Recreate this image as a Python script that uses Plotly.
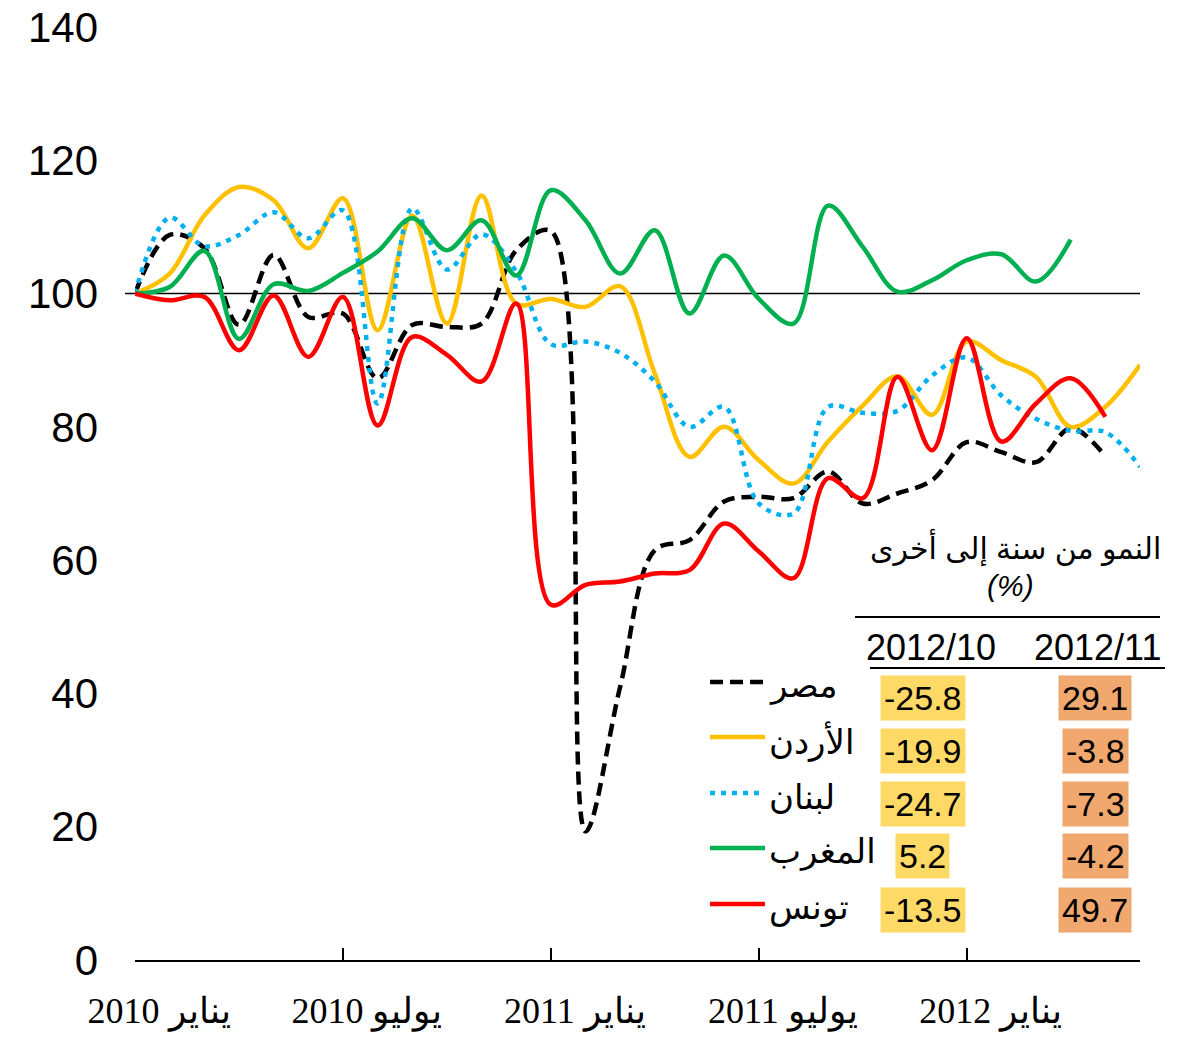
import plotly.graph_objects as go

# ---------------- data ----------------
months = list(range(30))  # Jan 2010 .. Jun 2012 (monthly index)
tick_idx = [0, 6, 12, 18, 24]
tick_labels = ["يناير 2010", "يوليو 2010", "يناير 2011", "يوليو 2011", "يناير 2012"]

names = ["مصر", "الأردن", "لبنان", "المغرب", "تونس"]

egypt = [100, 108.8, 106.8, 95.3, 105.8, 96.5, 97, 87.3, 95.3, 95, 95.5, 106.5,
         109.4, 19.3, 41, 61.5, 63, 68.8, 69.5, 69.3, 73.3, 68.5, 70, 72,
         77.7, 76.2, 74.7, 79.8, 75.6]
jordan = [100, 103, 111.7, 116, 114, 106.8, 114.3, 94.5, 111.7, 95.5, 114.7, 98.5,
          99.2, 98, 101.1, 88, 75.5, 80, 75, 71.5, 77.8, 83.2, 87.6, 81.8,
          92.8, 90, 87.5, 80, 83, 89.3]
lebanon = [100, 111.4, 107.1, 108.8, 112.2, 108.3, 112.5, 83.5, 112.8, 103.6, 108.9, 103.3,
           92.4, 92.8, 91.1, 86.8, 80, 83, 68.5, 67, 83, 82.1, 82.4, 87.7,
           90.4, 84.7, 81.2, 79.4, 79.2, 74]
morocco = [100, 101, 106.4, 93.2, 101.4, 100.4, 103.1, 106.3, 111.3, 106.5, 111, 102.7,
           115.5, 111, 103, 109.5, 97, 105.7, 99.2, 95.5, 113.2, 107, 100.3, 102,
           105, 105.9, 101.8, 108.1]
tunisia = [100, 99, 99.5, 91.5, 99.7, 90.5, 99.5, 80.2, 93.5, 90.8, 86.8, 98.5,
           53.3, 56.3, 56.8, 58, 58.5, 65.5, 61.3, 57.3, 72.3, 69.3, 87.5, 76.5,
           93.3, 77.8, 83.5, 87.3, 81.5]

yoy_oct = ["-25.8", "-19.9", "-24.7", "5.2", "-13.5"]
yoy_nov = ["29.1", "-3.8", "-7.3", "-4.2", "49.7"]
col_headers = ["2012/10", "2012/11"]
table_title = "النمو من سنة إلى أخرى"
table_unit = "(%)"

series = [egypt, jordan, lebanon, morocco, tunisia]
colors = ["#000000", "#FFC000", "#00B0F0", "#00B050", "#FF0000"]
dashes = ["13px,7px", "solid", "5px,6px", "solid", "solid"]

# ---------------- layout geometry (page pixel coordinates) ----------------
W, H = 1195, 1039
PL, PR, PT, PB = 135, 1140, 27, 960   # plot area in page pixels


def px(x):
    return (x - PL) / (PR - PL)


def py(y):
    return (PB - y) / (PB - PT)


SANS = "Arial, Liberation Sans, DejaVu Sans, sans-serif"
SERIF = "Times New Roman, Liberation Serif, DejaVu Serif, serif"

fig = go.Figure()
for name, vals, col, dsh in zip(names, series, colors, dashes):
    fig.add_trace(go.Scatter(
        x=months[:len(vals)], y=vals, mode="lines", name=name,
        line=dict(color=col, width=4.5, dash=dsh, shape="spline", smoothing=1.0),
        showlegend=False, hoverinfo="skip",
    ))

shapes = []
# reference line at 100
shapes.append(dict(type="line", xref="paper", yref="y", x0=px(125), x1=1.0, y0=100, y1=100,
                   line=dict(color="black", width=1.5), layer="below"))

annotations = []
# legend
row_y = [682, 737, 793, 848, 904]
for name, col, dsh, ry in zip(names, colors, dashes, row_y):
    shapes.append(dict(type="line", xref="paper", yref="paper",
                       x0=px(710), x1=px(765), y0=py(ry), y1=py(ry),
                       line=dict(color=col, width=4.5, dash=dsh)))
    annotations.append(dict(xref="paper", yref="paper", x=px(767), y=py(ry + 4),
                            text=name, showarrow=False, xanchor="left", yanchor="middle",
                            font=dict(family=SANS, size=34, color="black")))

# table title
annotations.append(dict(xref="paper", yref="paper", x=px(1015), y=py(547), text=table_title,
                        showarrow=False, xanchor="center", yanchor="middle",
                        font=dict(family=SANS, size=30, color="black")))
annotations.append(dict(xref="paper", yref="paper", x=px(1010), y=py(585), text="<i>" + table_unit + "</i>",
                        showarrow=False, xanchor="center", yanchor="middle",
                        font=dict(family=SANS, size=30, color="black")))
shapes.append(dict(type="line", xref="paper", yref="paper", x0=px(855), x1=px(1160),
                   y0=py(617), y1=py(617), line=dict(color="black", width=2)))
shapes.append(dict(type="line", xref="paper", yref="paper", x0=px(870), x1=px(1165),
                   y0=py(668), y1=py(668), line=dict(color="black", width=2)))
col_x = [931, 1097]
for hx, txt in zip(col_x, col_headers):
    annotations.append(dict(xref="paper", yref="paper", x=px(hx), y=py(647), text=txt,
                            showarrow=False, xanchor="center", yanchor="middle",
                            font=dict(family=SANS, size=36, color="black")))

box_y = [698, 751, 804, 856, 910]
for vals, cx, bg in [(yoy_oct, 922.5, "#FFD966"), (yoy_nov, 1095, "#F0A86E")]:
    for v, by in zip(vals, box_y):
        annotations.append(dict(xref="paper", yref="paper", x=px(cx), y=py(by), text=v,
                                showarrow=False, xanchor="center", yanchor="middle",
                                bgcolor=bg, borderpad=3,
                                font=dict(family=SANS, size=34, color="black")))

fig.update_layout(
    width=W, height=H,
    margin=dict(l=PL, r=W - PR, t=PT, b=H - PB, autoexpand=False),
    paper_bgcolor="white", plot_bgcolor="white",
    shapes=shapes, annotations=annotations,
    font=dict(family=SANS, color="black"),
)
fig.update_xaxes(range=[0, 29], tickvals=tick_idx, ticktext=tick_labels,
                 showgrid=False, zeroline=False, showline=True, linecolor="black", linewidth=1.5,
                 ticks="inside", ticklen=12, tickcolor="black", tickwidth=1.5,
                 tickfont=dict(family=SERIF, size=36, color="black"),
                 ticklabelshift=24, ticklabelstandoff=18, ticklabeloverflow="allow")
fig.update_yaxes(range=[0, 140], tickvals=list(range(0, 141, 20)),
                 showgrid=False, zeroline=False, showline=False, ticks="",
                 tickfont=dict(family=SANS, size=42, color="black"),
                 ticklabelstandoff=36, ticklabeloverflow="allow")

# remove the default page margin so the figure fills the window exactly
fig.write_html("out.html", config={"displayModeBar": False},
               post_script="document.body.style.margin='0px';")
